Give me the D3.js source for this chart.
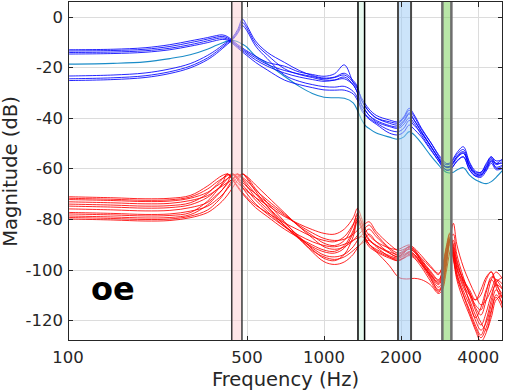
<!DOCTYPE html>
<html>
<head>
<meta charset="utf-8">
<script src="https://cdn.jsdelivr.net/npm/d3@7"></script>
<style>
body { margin: 0; background: #fff; }
svg text { font-family: "DejaVu Sans", sans-serif; fill: #262626; }
</style>
</head>
<body>
<div id="container"></div>
<script>
// frequency grid (Hz) shared by every curve
var freq = [100, 150, 200, 250, 300, 350, 380, 400, 420, 440, 460, 480, 500, 540, 600, 700, 800, 900, 1000, 1100,
            1200, 1300, 1350, 1400, 1450, 1500, 1600, 1800, 1950, 2050, 2150, 2250, 2400, 2600, 2800, 2900, 3000, 3100,
            3200, 3300, 3500, 3700, 3900, 4100, 4300, 4500, 4700, 5000];

// upper group (dB)
var blueSeries = [
    [-13.0,-12.8,-12.2,-11.0,-9.5,-8.2,-7.4,-7.1,-7.8,-9.4,-11.0,-12.3,-13.5,-15.5,-18.0,-19.5,-21.8,-22.8,-23.5,-22.5,-19.0,-26.0,-28.5,-32.0,-34.5,-36.5,-39.0,-40.8,-41.5,-39.5,-36.2,-38.8,-44.0,-49.4,-54.5,-56.5,-58.0,-57.8,-56.0,-53.8,-51.4,-57.5,-61.0,-61.5,-58.0,-55.3,-58.0,-56.0],
    [-13.5,-13.3,-12.8,-11.7,-10.2,-8.8,-8.0,-7.7,-8.3,-9.8,-11.5,-12.8,-14.0,-16.2,-18.8,-21.2,-22.6,-23.6,-24.5,-24.0,-23.0,-25.8,-28.0,-33.0,-35.5,-37.5,-40.0,-42.1,-42.8,-41.0,-38.0,-40.8,-45.4,-50.7,-56.0,-58.0,-59.3,-59.0,-57.5,-55.3,-53.3,-59.0,-62.0,-62.0,-59.3,-56.0,-58.5,-57.0],
    [-14.1,-13.9,-13.4,-12.4,-11.0,-9.5,-8.6,-8.3,-8.8,-10.2,-11.8,-13.3,-14.6,-17.0,-19.5,-22.2,-23.8,-24.8,-25.5,-25.0,-23.8,-26.8,-30.0,-35.0,-37.0,-39.0,-41.5,-43.4,-44.1,-42.5,-40.0,-42.1,-46.7,-52.0,-57.0,-59.0,-60.6,-60.5,-59.0,-57.3,-55.3,-60.6,-63.0,-62.5,-60.0,-57.3,-59.5,-58.5],
    [-14.7,-14.5,-14.0,-13.0,-11.6,-10.2,-9.3,-8.9,-9.2,-10.6,-12.3,-13.9,-15.3,-18.0,-21.0,-25.0,-26.8,-28.0,-28.9,-29.0,-29.0,-30.5,-33.0,-36.0,-38.5,-40.0,-42.0,-44.8,-45.4,-44.0,-41.0,-43.0,-46.0,-51.0,-56.0,-58.5,-59.5,-59.5,-58.0,-56.0,-54.0,-59.5,-62.5,-63.0,-59.5,-56.5,-60.0,-59.0],
    [-23.4,-23.0,-22.2,-20.6,-18.5,-15.3,-13.0,-11.3,-9.8,-8.0,-5.0,-0.9,-3.5,-9.5,-14.0,-18.0,-21.2,-23.2,-24.2,-23.8,-22.3,-25.2,-27.5,-32.9,-35.5,-37.5,-40.0,-41.5,-42.0,-40.0,-37.0,-39.5,-44.5,-49.5,-55.0,-57.5,-58.5,-58.2,-56.5,-54.5,-52.5,-58.0,-61.5,-61.5,-58.5,-55.5,-57.0,-56.5],
    [-24.5,-24.1,-23.3,-21.7,-19.5,-16.3,-13.8,-12.0,-10.3,-8.5,-5.8,-2.2,-4.5,-10.5,-15.0,-20.5,-22.8,-24.0,-25.0,-25.0,-24.5,-27.0,-30.0,-34.5,-37.0,-39.0,-41.0,-43.0,-43.5,-41.5,-38.5,-41.0,-45.5,-51.0,-56.0,-58.5,-59.5,-59.2,-57.5,-55.5,-53.8,-59.0,-62.0,-62.5,-60.5,-57.0,-58.0,-58.0],
    [-25.2,-24.8,-24.0,-22.4,-20.2,-17.0,-14.5,-12.6,-10.8,-9.0,-6.5,-3.5,-5.5,-11.5,-16.5,-23.0,-25.5,-26.8,-27.6,-27.8,-27.5,-29.5,-32.0,-37.0,-39.0,-40.5,-42.5,-46.0,-46.7,-45.5,-42.8,-44.5,-47.5,-52.5,-57.0,-59.5,-60.6,-60.5,-59.0,-57.0,-55.5,-60.5,-63.0,-63.5,-61.0,-58.0,-60.5,-60.0]
];

var tealSeries = [-18.7,-18.4,-17.8,-16.5,-15.0,-12.8,-11.2,-10.3,-9.6,-9.3,-9.8,-10.8,-12.0,-15.5,-18.5,-23.5,-27.5,-30.3,-31.8,-32.0,-32.2,-34.0,-37.0,-40.5,-43.0,-44.2,-46.0,-47.6,-48.4,-47.5,-45.4,-46.7,-50.0,-54.7,-58.6,-60.3,-61.5,-61.8,-61.5,-60.6,-59.7,-62.6,-64.5,-65.5,-66.0,-65.2,-63.5,-60.6];

// lower group (dB)
var redSeries = [
    [-71.2,-71.6,-72.0,-71.8,-70.7,-67.0,-64.3,-62.8,-62.2,-63.8,-65.8,-67.5,-69.0,-71.5,-74.5,-79.0,-82.0,-84.2,-85.7,-86.0,-84.0,-79.5,-75.8,-79.5,-84.0,-86.5,-89.0,-91.5,-92.0,-91.0,-90.3,-91.5,-94.5,-98.5,-101.5,-99.0,-92.0,-86.0,-93.0,-99.0,-106.0,-110.0,-112.0,-108.0,-103.0,-101.0,-106.0,-110.0],
    [-71.8,-72.2,-72.6,-72.4,-71.3,-68.2,-65.5,-64.0,-62.8,-62.2,-63.5,-65.5,-67.2,-70.0,-73.5,-78.5,-82.5,-85.5,-87.7,-88.5,-88.0,-86.0,-84.5,-83.0,-81.8,-81.1,-85.0,-90.0,-92.5,-92.0,-91.0,-92.0,-96.0,-100.5,-104.0,-101.0,-94.0,-88.0,-81.7,-90.0,-99.0,-105.0,-110.0,-114.0,-112.0,-108.0,-104.0,-106.0],
    [-72.3,-72.7,-73.1,-72.9,-71.8,-69.5,-67.0,-65.5,-64.0,-62.8,-62.2,-63.5,-65.0,-68.5,-72.5,-78.0,-83.0,-86.5,-89.6,-90.5,-88.5,-82.5,-77.7,-81.5,-86.0,-88.5,-90.5,-93.0,-94.0,-93.0,-92.0,-93.0,-96.5,-101.0,-104.5,-100.0,-92.0,-87.0,-93.0,-99.5,-105.0,-109.0,-115.0,-118.0,-112.0,-104.0,-101.0,-104.0],
    [-73.2,-73.6,-74.0,-73.8,-72.7,-70.8,-68.5,-67.0,-65.5,-64.2,-63.0,-62.2,-63.2,-66.5,-71.0,-77.5,-83.0,-87.5,-91.0,-92.0,-91.0,-88.5,-86.5,-85.0,-83.5,-82.4,-86.0,-91.5,-93.5,-92.5,-91.0,-92.5,-95.5,-99.0,-102.0,-98.5,-91.0,-85.5,-91.0,-98.0,-104.0,-108.0,-112.0,-110.0,-104.0,-100.9,-105.0,-112.0],
    [-74.1,-74.5,-74.9,-74.7,-73.6,-70.0,-66.5,-64.3,-62.2,-64.5,-67.5,-70.0,-72.0,-75.5,-79.0,-84.0,-87.5,-90.3,-92.3,-92.8,-90.5,-84.5,-79.5,-83.0,-87.5,-90.0,-92.0,-94.5,-95.5,-94.5,-93.5,-94.5,-97.5,-102.0,-106.0,-103.0,-95.0,-88.0,-92.0,-100.0,-107.0,-112.0,-118.0,-122.0,-117.0,-110.0,-106.0,-108.0],
    [-74.9,-75.3,-75.7,-75.5,-74.4,-71.5,-68.5,-66.5,-64.0,-62.2,-64.0,-66.5,-68.5,-72.5,-77.0,-83.0,-87.5,-91.5,-94.3,-95.0,-94.0,-91.0,-88.5,-86.5,-85.0,-84.0,-87.0,-92.0,-94.5,-93.5,-91.5,-93.0,-97.0,-102.5,-107.0,-105.0,-97.0,-88.5,-86.0,-94.0,-103.0,-110.0,-116.0,-121.0,-124.0,-119.0,-112.0,-110.0],
    [-76.0,-76.4,-76.8,-76.6,-75.5,-73.5,-70.5,-68.5,-66.0,-64.0,-62.2,-64.0,-66.0,-70.0,-75.0,-81.5,-87.0,-92.0,-95.6,-96.5,-94.0,-87.0,-81.0,-84.0,-88.5,-91.0,-93.0,-95.5,-96.5,-95.0,-93.0,-94.0,-98.0,-103.5,-108.0,-106.0,-98.0,-89.0,-95.0,-103.0,-110.0,-116.0,-122.0,-126.0,-120.0,-112.0,-105.0,-103.0],
    [-77.4,-77.8,-78.2,-78.0,-76.9,-75.0,-72.5,-70.5,-68.0,-65.5,-63.5,-62.2,-63.5,-68.0,-73.5,-81.0,-87.5,-93.0,-96.9,-98.0,-97.0,-94.0,-91.5,-89.5,-87.5,-86.0,-89.0,-93.5,-95.0,-93.0,-91.0,-92.5,-96.5,-101.5,-105.5,-102.5,-95.0,-87.5,-90.0,-97.0,-104.0,-109.0,-114.0,-116.0,-109.0,-103.0,-104.0,-108.0],
    [-78.0,-78.4,-78.8,-78.6,-77.5,-73.0,-69.0,-66.0,-62.2,-64.5,-67.0,-69.5,-71.5,-74.5,-77.5,-81.5,-84.5,-87.0,-88.5,-89.0,-87.0,-82.0,-78.5,-81.0,-85.5,-88.0,-90.5,-93.5,-95.0,-94.0,-93.0,-94.0,-97.5,-103.0,-108.5,-107.0,-99.0,-90.0,-96.0,-104.0,-112.0,-118.0,-124.0,-128.5,-125.0,-117.0,-110.0,-114.0],
    [-78.8,-79.2,-79.6,-79.4,-78.3,-74.5,-71.0,-68.5,-65.5,-62.2,-64.5,-67.5,-70.0,-74.0,-78.0,-83.0,-86.5,-89.0,-90.5,-91.0,-90.0,-88.5,-87.5,-87.0,-88.0,-90.0,-93.0,-98.5,-103.0,-103.7,-103.7,-103.5,-104.0,-106.0,-109.5,-108.0,-101.0,-93.0,-88.5,-96.0,-105.0,-113.0,-120.0,-124.0,-121.0,-114.0,-108.0,-112.0],
    [-79.4,-79.8,-80.2,-80.0,-78.9,-76.5,-73.5,-71.0,-67.5,-64.5,-62.2,-64.5,-67.0,-71.5,-76.0,-82.5,-87.5,-91.0,-93.0,-93.5,-91.5,-85.5,-80.2,-83.0,-87.5,-90.0,-92.5,-95.0,-96.0,-95.5,-94.5,-95.5,-99.0,-104.5,-109.0,-105.5,-96.5,-88.0,-94.0,-101.5,-108.5,-114.0,-119.0,-115.0,-108.0,-104.0,-107.0,-115.0],
    [-80.0,-80.4,-80.8,-80.6,-79.5,-77.5,-75.0,-73.0,-70.5,-67.5,-64.5,-62.2,-64.0,-69.0,-75.0,-82.5,-88.0,-92.5,-95.0,-96.0,-95.0,-92.5,-91.0,-89.8,-88.8,-88.5,-91.0,-95.0,-96.5,-95.5,-94.0,-95.0,-98.0,-102.0,-105.0,-101.0,-93.5,-89.0,-95.5,-102.0,-110.0,-117.0,-123.0,-127.0,-123.0,-116.0,-111.0,-116.0]
];

// highlighted frequency bands (Hz)
var bandLow  = [436, 1357, 1945, 2898];
var bandHigh = [478, 1440, 2187, 3143];

var xTicks = [100, 500, 1000, 2000, 4000];
var yTicks = [0, -20, -40, -60, -80, -100, -120];
var tag = "oe";

var width = 505, height = 391;
var margin = {top: 2, right: 2, bottom: 50, left: 68};
var bandFill   = ["#fbcdd1", "#cdf3df", "#99c9f5", "#73cd51"];
var bandStroke = ["#3a3a3a", "#000000", "#4a4a4a", "#6e6e6e"];
var bandWidth  = [1.5, 1.5, 2, 2.5];

var svg = d3.select("#container").append("svg")
    .attr("width", width)
    .attr("height", height);

var x = d3.scaleLog()
    .domain([100, 5000])
    .range([margin.left, width - margin.right]);

var y = d3.scaleLinear()
    .domain([-128.3, 5.9])
    .range([height - margin.bottom, margin.top]);

var x0 = x.range()[0], x1 = x.range()[1], y0 = y.range()[1], y1 = y.range()[0];

svg.append("defs").append("clipPath").attr("id", "plotclip")
    .append("rect")
    .attr("x", x0).attr("y", y0)
    .attr("width", x1 - x0).attr("height", y1 - y0);

// grid
var grid = svg.append("g").attr("class", "grid");
grid.selectAll("line.gy").data(yTicks).enter().append("line")
    .attr("x1", x0).attr("x2", x1)
    .attr("y1", function(d) { return Math.round(y(d)) + 0.5; })
    .attr("y2", function(d) { return Math.round(y(d)) + 0.5; })
    .attr("stroke", "#dcdcdc").attr("stroke-width", 1);
grid.selectAll("line.gx").data(xTicks.slice(1)).enter().append("line")
    .attr("y1", y0).attr("y2", y1)
    .attr("x1", function(d) { return Math.round(x(d)) + 0.5; })
    .attr("x2", function(d) { return Math.round(x(d)) + 0.5; })
    .attr("stroke", "#dcdcdc").attr("stroke-width", 1);

// curves
var line = d3.line()
    .x(function(d, i) { return x(freq[i]); })
    .y(function(d) { return y(d); })
    .curve(d3.curveCatmullRom.alpha(0.5));

var plot = svg.append("g").attr("clip-path", "url(#plotclip)");

plot.selectAll("path.red").data(redSeries).enter().append("path")
    .attr("class", "red")
    .attr("d", line)
    .attr("fill", "none")
    .attr("stroke", "#ff0000")
    .attr("stroke-opacity", 0.85)
    .attr("stroke-width", 1);

plot.append("path")
    .datum(tealSeries)
    .attr("d", line)
    .attr("fill", "none")
    .attr("stroke", "#1a8cc8")
    .attr("stroke-width", 1.1);

plot.selectAll("path.blue").data(blueSeries).enter().append("path")
    .attr("class", "blue")
    .attr("d", line)
    .attr("fill", "none")
    .attr("stroke", "#0000ff")
    .attr("stroke-opacity", 0.85)
    .attr("stroke-width", 1);

// shaded bands drawn on top, semi transparent
var bands = svg.append("g").attr("clip-path", "url(#plotclip)");
bands.selectAll("rect").data(bandLow).enter().append("rect")
    .attr("x", function(d) { return x(d); })
    .attr("y", y0 - 2)
    .attr("width", function(d, i) { return x(bandHigh[i]) - x(d); })
    .attr("height", y1 - y0 + 4)
    .attr("fill", function(d, i) { return bandFill[i]; })
    .attr("fill-opacity", 0.5)
    .attr("stroke", function(d, i) { return bandStroke[i]; })
    .attr("stroke-width", function(d, i) { return bandWidth[i]; });

// box + ticks
var ink = "#262626";
svg.append("rect")
    .attr("x", x0 + 0.5).attr("y", y0 - 0.5)
    .attr("width", x1 - x0 - 1).attr("height", y1 - y0)
    .attr("fill", "none").attr("stroke", ink).attr("stroke-width", 1);

var tl = 5;
xTicks.forEach(function(t) {
    var px = Math.round(x(t)) + 0.5;
    svg.append("line").attr("x1", px).attr("x2", px).attr("y1", y1).attr("y2", y1 - tl).attr("stroke", ink);
    svg.append("line").attr("x1", px).attr("x2", px).attr("y1", y0).attr("y2", y0 + tl).attr("stroke", ink);
    svg.append("text")
        .attr("x", x(t)).attr("y", y1 + 21.5)
        .attr("text-anchor", "middle")
        .style("font-size", "16.5px")
        .text(t);
});
yTicks.forEach(function(t) {
    var py = Math.round(y(t)) + 0.5;
    svg.append("line").attr("x1", x0).attr("x2", x0 + tl).attr("y1", py).attr("y2", py).attr("stroke", ink);
    svg.append("line").attr("x1", x1).attr("x2", x1 - tl).attr("y1", py).attr("y2", py).attr("stroke", ink);
    svg.append("text")
        .attr("x", x0 - 5).attr("y", y(t) + 6)
        .attr("text-anchor", "end")
        .style("font-size", "16.5px")
        .text(t);
});

// axis titles
svg.append("text")
    .attr("x", (x0 + x1) / 2).attr("y", 386)
    .attr("text-anchor", "middle")
    .style("font-size", "19.5px")
    .text("Frequency (Hz)");

svg.append("text")
    .attr("transform", "translate(17," + ((y0 + y1) / 2) + ") rotate(-90)")
    .attr("text-anchor", "middle")
    .style("font-size", "19.5px")
    .text("Magnitude (dB)");

svg.append("text")
    .attr("x", 91).attr("y", 300)
    .style("font-size", "32px")
    .style("font-weight", "bold")
    .style("fill", "#000")
    .text(tag);
</script>
</body>
</html>
